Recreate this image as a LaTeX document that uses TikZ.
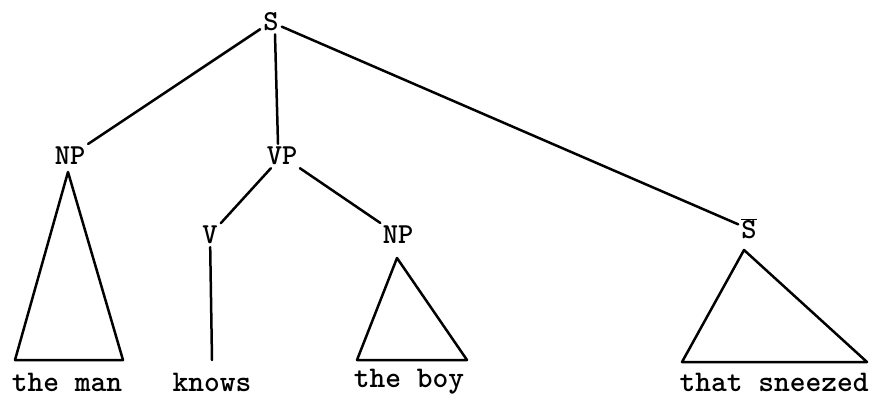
\documentclass[tikz,border=0pt]{standalone}
\usepackage{fontspec}
\begin{document}
\begin{tikzpicture}[x=1pt,y=-1pt,
  cat/.style={font=\fontsize{29}{32}\selectfont\ttfamily\bfseries, inner sep=3pt},
  leaf/.style={font=\fontsize{30}{34}\selectfont\ttfamily\bfseries, inner sep=0pt},
  edge/.style={line width=2.5pt, line cap=round, line join=round}]
\useasboundingbox (0,0) rectangle (874,397);
% categories
\node[cat] (S) at (271,22) {S};
\node[cat] (NPa) at (70,156) {NP};
\node[cat] (VP) at (282,156) {VP};
\node[cat] (V) at (210,235) {V};
\node[cat] (NPb) at (398,235) {NP};
\node[cat] (Sb) at (749,229) {$\overline{\mbox{S}}$};
% leaves
\node[leaf] (l1) at (67,382) {the man};
\node[leaf] (l2) at (212,382) {knows};
\node[leaf] (l3) at (409,382) {the boy};
\node[leaf] (l4) at (774,382) {that sneezed};
% triangle corners
\coordinate (a1) at (68,172);
\coordinate (b1l) at (15,360);
\coordinate (b1r) at (123,360);
\coordinate (a2) at (397,258);
\coordinate (b2l) at (357,360);
\coordinate (b2r) at (467,360);
\coordinate (a3) at (744,250);
\coordinate (b3l) at (682,362);
\coordinate (b3r) at (867,362);
\coordinate (vb) at (212,360);
% edges
\draw[edge] (S) -- (NPa);
\draw[edge] ([xshift=4pt]S.south) -- ([xshift=-4pt]VP.north);
\draw[edge] (S) -- (Sb);
\draw[edge] (VP) -- (V);
\draw[edge] (VP) -- (NPb);
\draw[edge] (V) -- (vb);
\draw[edge] (a1) -- (b1l) -- (b1r) -- cycle;
\draw[edge] (a2) -- (b2l) -- (b2r) -- cycle;
\draw[edge] (a3) -- (b3l) -- (b3r) -- cycle;
\end{tikzpicture}
\end{document}
